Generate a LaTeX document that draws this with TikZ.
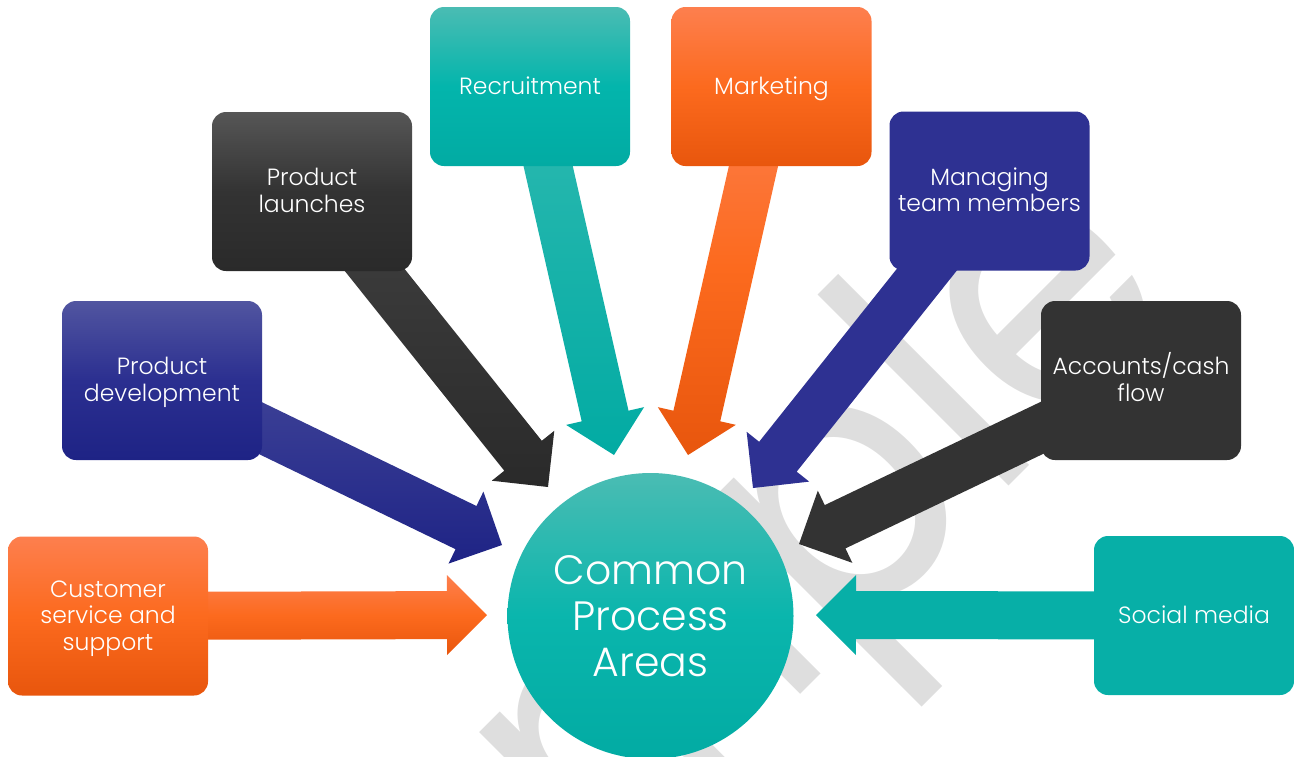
\documentclass[tikz,border=0pt]{standalone}
\usepackage{fontspec}
\setmainfont{Poppins}
\newfontfamily\lightfont{Poppins Light}
\usetikzlibrary{calc}
\definecolor{orT}{HTML}{FD7F4E}
\definecolor{orM}{HTML}{FC6A1E}
\definecolor{orB}{HTML}{E8560D}
\definecolor{blT}{HTML}{5155A0}
\definecolor{blM}{HTML}{2B2F90}
\definecolor{blB}{HTML}{1E2385}
\definecolor{blS}{HTML}{2E3192}
\definecolor{dkT}{HTML}{565656}
\definecolor{dkM}{HTML}{333333}
\definecolor{dkB}{HTML}{2A2A2A}
\definecolor{dkS}{HTML}{333333}
\definecolor{tlT}{HTML}{4ABCB3}
\definecolor{tlM}{HTML}{03B5AC}
\definecolor{tlB}{HTML}{02ABA3}
\definecolor{tlS}{HTML}{07AFA7}
\definecolor{wm}{HTML}{DEDEDE}
% struts so that lines are centred like a text box, not by ink
\newcommand\hst{\rule{0pt}{0.95em}}
\newcommand\dst{\rule[-0.3em]{0pt}{0pt}}
% block arrow: #1 style, #2 start node, #3 tip coordinate
\newcommand\blockarrow[3]{%
  \path ($(#3)!40pt!(#2)$) coordinate (hb);
  \path[#1] ($(#2)!24pt!90:(#3)$) -- ($(hb)!24pt!90:(#3)$) -- ($(hb)!40pt!90:(#3)$)
    -- (#3) -- ($(hb)!40pt!-90:(#3)$) -- ($(hb)!24pt!-90:(#3)$)
    -- ($(#2)!24pt!-90:(#3)$) -- cycle;}
\tikzset{
  box/.style={rounded corners=14pt, minimum width=200pt, minimum height=159pt,
    inner sep=0pt, align=center, text=white,
    font=\lightfont\fontsize{23.5}{26.5}\selectfont},
  orangebox/.style={box, top color=orT, bottom color=orB, middle color=orM},
  bluebox/.style={box, top color=blT, bottom color=blB, middle color=blM},
  darkbox/.style={box, top color=dkT, bottom color=dkB, middle color=dkM},
  tealbox/.style={box, top color=tlT, bottom color=tlB, middle color=tlM},
  orangearrow/.style={top color=orT, bottom color=orB, middle color=orM},
  bluearrow/.style={top color=blT!60!blM, bottom color=blB},
  darkarrow/.style={top color=dkT!40!dkM, bottom color=dkB},
  tealarrow/.style={top color=tlT!60!tlM, bottom color=tlB},
}
\begin{document}
\begin{tikzpicture}[x=1pt,y=-1pt]
\useasboundingbox (0,0) rectangle (1294,756);
\clip (0,0) rectangle (1294,756);
% watermark
\node[anchor=base, rotate=45, xscale=0.88, text=wm, inner sep=0pt,
  font=\fontsize{365}{365}\selectfont] (wmark) at (752.5,742.5) {Sample};
% box positions
\path (108,616) coordinate (pcust);
\path (162,380.5) coordinate (ppd);
\path (312,191.5) coordinate (pla);
\path (530,86.5) coordinate (prec);
\path (771.5,86.5) coordinate (pmk);
\path (989.5,191) coordinate (pman);
\path (1141,380.5) coordinate (pacc);
\path (1194,615.5) coordinate (psoc);
% arrow tips
\coordinate (tcust) at (487,615);
\coordinate (tpd) at (502,545);
\coordinate (tla) at (548,487);
\coordinate (trec) at (614,455);
\coordinate (tmk) at (688,455);
\coordinate (tman) at (753,488);
\coordinate (tacc) at (799,544);
\coordinate (tsoc) at (816,615);
% arrows
\blockarrow{orangearrow}{pcust}{tcust}
\blockarrow{bluearrow}{ppd}{tpd}
\blockarrow{darkarrow}{pla}{tla}
\blockarrow{tealarrow}{prec}{trec}
\blockarrow{orangearrow}{pmk}{tmk}
\blockarrow{fill=blS}{pman}{tman}
\blockarrow{fill=dkS}{pacc}{tacc}
\blockarrow{fill=tlS}{psoc}{tsoc}
% boxes
\node[orangebox] (cust) at (pcust) {\hst Customer\\service and\\support\dst};
\node[bluebox] (pd) at (ppd) {\hst Product\\development\dst};
\node[darkbox] (la) at (pla) {\hst Product\\launches\dst};
\node[tealbox] (rec) at (prec) {\hst Recruitment\dst};
\node[orangebox] (mk) at (pmk) {\hst Marketing\dst};
\node[box, fill=blS] (man) at (pman) {\hst Managing\\team members\dst};
\node[box, fill=dkS] (acc) at (pacc) {\hst Accounts/cash\\flow\dst};
\node[box, fill=tlS] (soc) at (psoc) {\hst Social media\dst};
% centre
\node[circle, minimum size=286pt, inner sep=0pt, align=center, text=white,
  top color=tlT, bottom color=tlB, middle color=tlM!90!tlT,
  font=\lightfont\fontsize{41}{46}\selectfont] (core) at (650.5,616)
  {Common\\Process\\Areas};
\end{tikzpicture}
\end{document}
